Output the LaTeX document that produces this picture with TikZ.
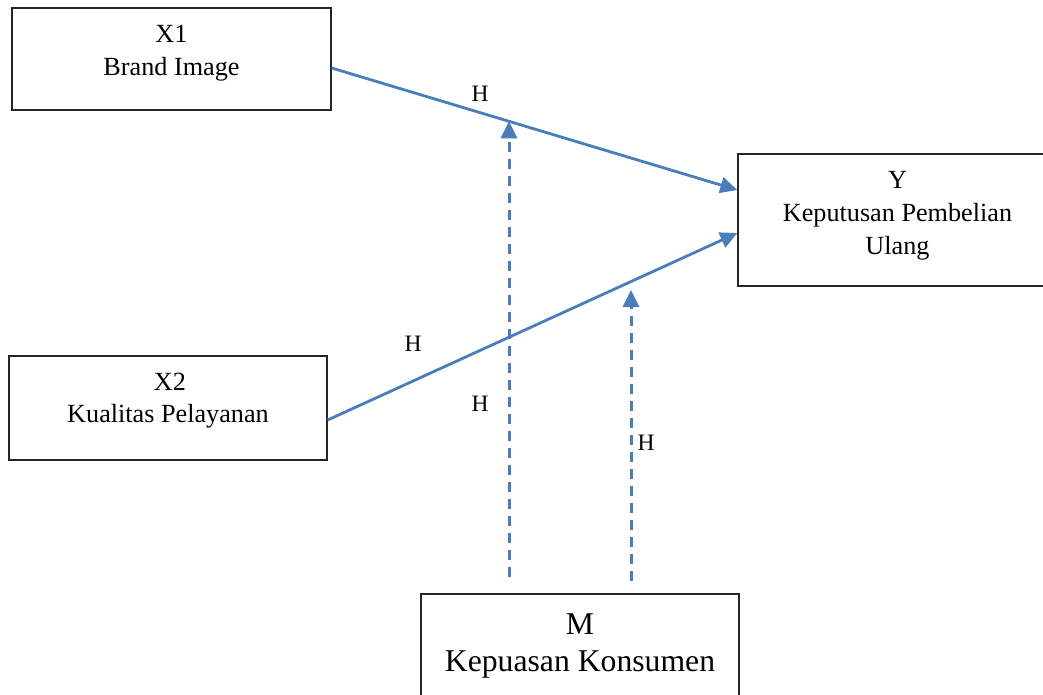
\documentclass[tikz,border=0pt]{standalone}
\usepackage{fontspec}
\setmainfont{Liberation Serif}
\usetikzlibrary{arrows.meta,calc}
\definecolor{lineblue}{RGB}{74,126,187}
\begin{document}
\begin{tikzpicture}[x=1pt,y=-1pt,
  box/.style={draw=black!85, line width=1.3pt, rectangle, inner sep=0pt},
  lbl/.style={font=\fontsize{26.2}{32.5}\selectfont, anchor=base, inner sep=0pt},
  hlbl/.style={font=\fontsize{23.5}{28}\selectfont, anchor=base, inner sep=0pt},
  big/.style={font=\fontsize{31.7}{37}\selectfont, anchor=base, inner sep=0pt},
  link/.style={draw=lineblue, line width=2.8pt, -{Triangle[length=17pt,width=16pt]}},
  modlink/.style={link, line width=3pt, dash pattern=on 10pt off 7pt}]
\useasboundingbox (0,0) rectangle (1043,695);
\clip (0,0) rectangle (1043,695);
\fill[white] (0,0) rectangle (1043,695);

% boxes
\node[box, minimum width=319pt, minimum height=102pt] (x1) at (171.5,59) {};
\node[box, minimum width=319pt, minimum height=132pt] (y) at (897.5,220) {};
\node[box, minimum width=318pt, minimum height=104pt] (x2) at (168,408) {};
\node[box, minimum width=318pt, minimum height=110pt] (m) at (580,649) {};

% box texts
\node[lbl] (x1a) at (171.5,43) {X1};
\node[lbl] (x1b) at (171.5,76) {Brand Image};
\node[lbl] (ya) at (897.5,189) {Y};
\node[lbl] (yb) at (897.5,221) {Keputusan Pembelian};
\node[lbl] (yc) at (897.5,254) {Ulang};
\node[lbl] (x2a) at (170,390) {X2};
\node[lbl] (x2b) at (168,422) {Kualitas Pelayanan};
\node[big] (ma) at (580,634) {M};
\node[big] (mb) at (580,671) {Kepuasan Konsumen};

% direct paths
\draw[link] ($(x1.east)+(0,9)$) -- coordinate[pos=0.437] (h1) ($(y.west)+(0,-30)$);
\draw[link] ($(x2.east)+(0,12)$) -- ($(y.west)+(0,13)$);

% moderating paths
\coordinate (d1) at ($(m.north)+(-71,-16)$);
\coordinate (d2) at ($(m.north)+(51,-12)$);
\coordinate (t2) at (631,290);
\draw[modlink] (d1) -- (d1 |- h1);
\draw[modlink] (d2) -- (t2);

% labels
\node[hlbl] (ha) at (480,102) {H};
\node[hlbl] (hb) at (413,351) {H};
\node[hlbl] (hc) at (480,411) {H};
\node[hlbl] (hd) at (646,450) {H};
\end{tikzpicture}
\end{document}
